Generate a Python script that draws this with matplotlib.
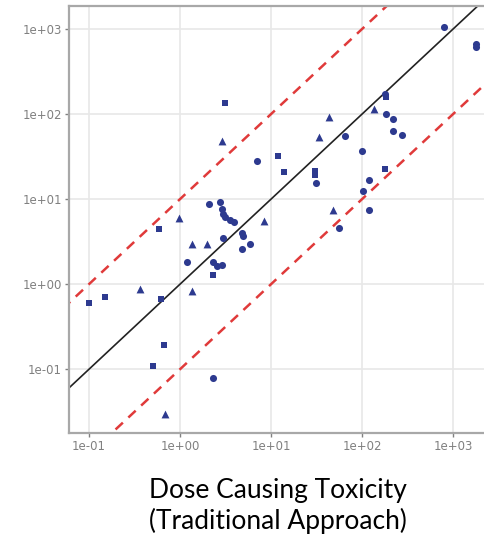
import numpy as np
import matplotlib
matplotlib.use("Agg")
import matplotlib.pyplot as plt

# values (x = traditional dose, y = predicted dose)
sq_x = [0.10, 0.15, 0.62, 0.59, 0.67, 0.50, 3.1, 12, 14, 2.3, 184, 179, 30, 30]
sq_y = [0.60, 0.70, 0.67, 4.4, 0.19, 0.11, 135, 32, 21, 1.28, 158, 22.5, 21.4, 19.2]

tri_x = [0.36, 0.98, 1.35, 2.0, 1.35, 0.68, 2.9, 8.4, 34, 43, 135, 48]
tri_y = [0.87, 6.0, 2.95, 2.95, 0.82, 0.030, 48, 5.5, 54, 92, 114, 7.4]

circ_x = [1.2, 2.3, 2.1, 2.75, 2.9, 3.0, 3.1, 3.5, 3.9, 4.8, 4.9, 3.0, 5.9, 4.8,
          2.3, 2.55, 2.9, 7.0, 65, 100, 184, 219, 219, 275, 119, 103, 119, 56,
          800, 1790, 1790, 31, 180]
circ_y = [1.8, 0.078, 8.7, 9.2, 7.6, 6.7, 6.1, 5.7, 5.4, 4.0, 3.7, 3.5, 2.95, 2.6,
          1.8, 1.65, 1.7, 28, 55, 37, 100, 87, 63, 57, 16.7, 12.4, 7.4, 4.6,
          1050, 670, 610, 15.4, 170]

ticks = [0.1, 1, 10, 100, 1000]
tick_labels = ["1e-01", "1e+00", "1e+01", "1e+02", "1e+03"]

xlim = (10 ** -1.22, 10 ** 3.35)
ylim = (10 ** -1.75, 10 ** 3.27)

blue = "#2d3a8f"
grey = "#808080"

fig = plt.figure(figsize=(4.85, 5.36), dpi=100)
ax = fig.add_axes([69 / 485, 103 / 536, 416 / 485, 427 / 536])

ax.set_xscale("log")
ax.set_yscale("log")
ax.set_xlim(*xlim)
ax.set_ylim(*ylim)

# identity line and 10-fold bounds
line_x = np.array([1e-3, 1e5])
ax.plot(line_x, line_x, color="#222222", lw=1.2, zorder=2)
ax.plot(line_x, line_x * 10, color="#e03a3a", lw=1.8, ls=(0, (4, 3)), zorder=2)
ax.plot(line_x, line_x / 10, color="#e03a3a", lw=1.8, ls=(0, (4, 3)), zorder=2)

ax.scatter(circ_x, circ_y, marker="o", s=26, color=blue, lw=0, zorder=3)
ax.scatter(sq_x, sq_y, marker="s", s=24, color=blue, lw=0, zorder=3)
ax.scatter(tri_x, tri_y, marker="^", s=32, color=blue, lw=0, zorder=3)

ax.set_xticks(ticks)
ax.set_xticklabels(tick_labels)
ax.set_yticks(ticks)
ax.set_yticklabels(tick_labels)
ax.minorticks_off()
ax.tick_params(axis="both", length=3, width=1, color=grey, labelcolor=grey,
               labelsize=8.5, pad=2)

ax.grid(True, color="#e8e8e8", lw=1.2)
ax.set_axisbelow(True)
for side in ["left", "bottom", "top"]:
    ax.spines[side].set_color("#a8a8a8")
    ax.spines[side].set_linewidth(1.6)
ax.spines["right"].set_visible(False)

fig.text(0.574, 0.004, "Dose Causing Toxicity\n(Traditional Approach)",
         ha="center", va="bottom", fontsize=19, family="Lato",
         linespacing=1.22, color="black")

fig.savefig("out.png", dpi=100)
